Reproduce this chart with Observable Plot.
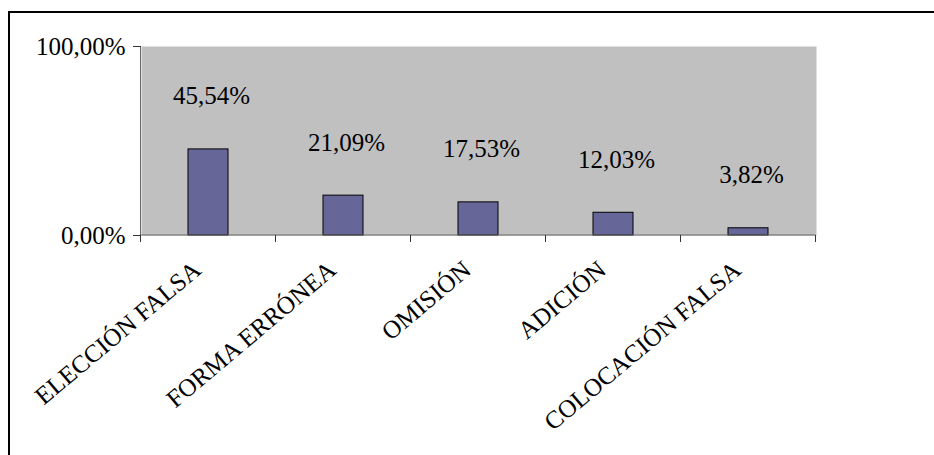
<!DOCTYPE html>
<html><head><meta charset="utf-8">
<script src="https://cdn.jsdelivr.net/npm/d3@7"></script>
<script src="https://cdn.jsdelivr.net/npm/@observablehq/plot@0.6"></script>
<style>
html,body{margin:0;padding:0;background:#fff;overflow:hidden;}
#wrap{position:relative;width:934px;height:455px;overflow:hidden;}
#border{position:absolute;left:8px;top:11px;width:2000px;height:2000px;border-left:2px solid #000;border-top:2px solid #000;pointer-events:none;}
</style></head><body>
<div id="wrap"><div id="chart"></div><div id="border"></div></div>
<script>
const categories = ["ELECCIÓN FALSA", "FORMA ERRÓNEA", "OMISIÓN", "ADICIÓN", "COLOCACIÓN FALSA"];
const values = [0.4554, 0.2109, 0.1753, 0.1203, 0.0382];
const yTicks = [0, 1];

const data = categories.map((c, i) => ({category: c, value: values[i]}));
const pct = d => (d * 100).toFixed(2).replace(".", ",") + "%";
const font = '"Liberation Serif","Times New Roman",serif';

function axisLines(index, scales, vals, dims) {
  const x = scales.x;
  const bw = typeof x.bandwidth === "function" ? x.bandwidth() : 0;
  const centers = categories.map(c => x(c) + bw / 2);
  const step = centers[1] - centers[0];
  const bounds = centers.map(c => c - step / 2).concat(centers[centers.length - 1] + step / 2);
  const y0 = scales.y(0), y1 = scales.y(1);
  const g = d3.create("svg:g");
  g.append("line").attr("x1", bounds[0]).attr("x2", bounds[0]).attr("y1", y1).attr("y2", y0).attr("stroke", "#666");
  g.append("line").attr("x1", bounds[0]).attr("x2", bounds[bounds.length - 1]).attr("y1", y0).attr("y2", y0).attr("stroke", "#666");
  g.selectAll("line.t").data(bounds).join("line").attr("class", "t")
    .attr("x1", d => d).attr("x2", d => d).attr("y1", y0).attr("y2", y0 + 7).attr("stroke", "#333");
  return g.node();
}

const chart = Plot.plot({
  width: 934,
  height: 455,
  marginLeft: 141,
  marginRight: 118,
  marginTop: 46,
  marginBottom: 220,
  style: {fontFamily: font, fontSize: "25px", color: "#000", background: "transparent"},
  x: {domain: categories, paddingInner: 0.7037, paddingOuter: 0.35185, axis: null},
  y: {domain: [0, 1], axis: null, label: null},
  marks: [
    Plot.frame({fill: "#c0c0c0"}),
    Plot.barY(data, {x: "category", y: "value", fill: "#666699", stroke: "#000", strokeWidth: 1}),
    axisLines,
    Plot.axisY(yTicks, {tickSize: 8, tickPadding: 8, tickFormat: pct, fontSize: 25, stroke: "#333", label: null}),
    Plot.text(data, {x: "category", y: "value", text: d => pct(d.value), dx: 3, dy: -45, lineAnchor: "bottom", fontSize: 25, fill: "#000"}),
    Plot.text(categories, {x: d => d, frameAnchor: "bottom", text: d => d, rotate: -40, textAnchor: "end", lineAnchor: "bottom", dx: -6, dy: 37, fontSize: 25, fill: "#000"})
  ]
});
document.getElementById("chart").appendChild(chart);
</script>
</body></html>
